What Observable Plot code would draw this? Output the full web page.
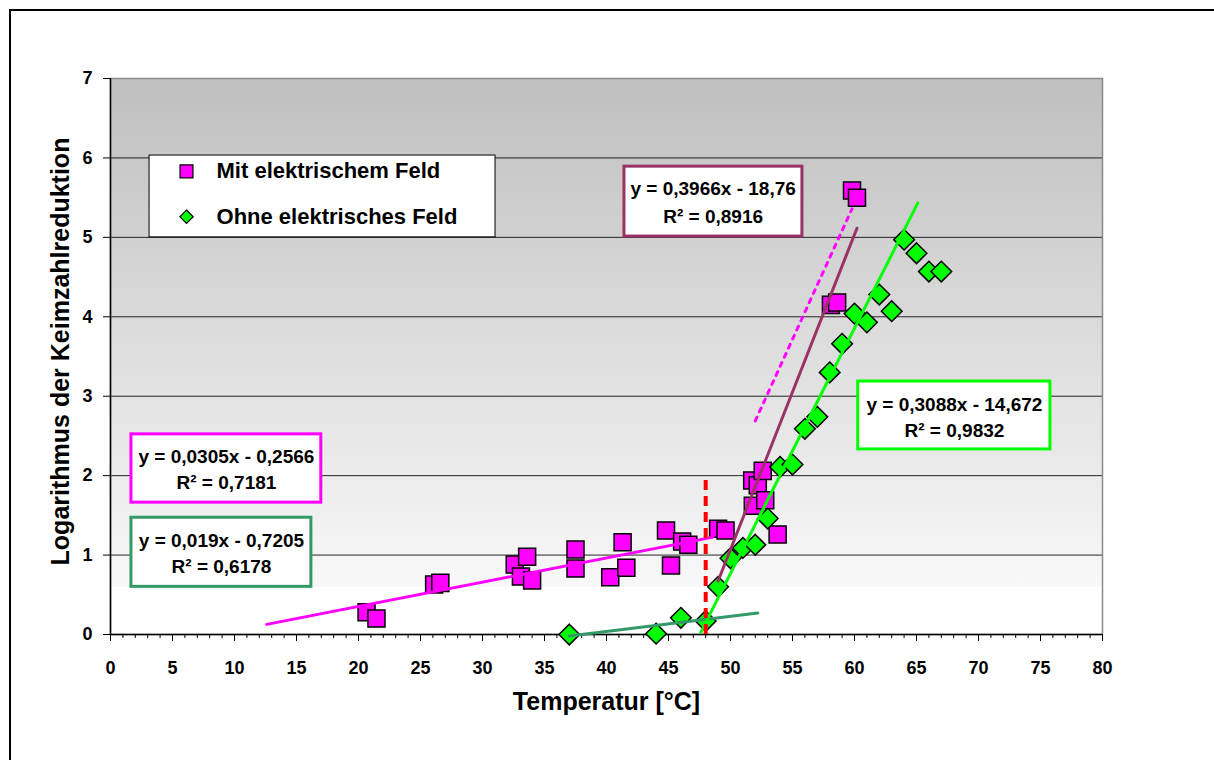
<!DOCTYPE html>
<html><head><meta charset="utf-8">
<script src="https://cdn.jsdelivr.net/npm/d3@7"></script>
<script src="https://cdn.jsdelivr.net/npm/@observablehq/plot@0.6"></script>
<style>
html,body{margin:0;padding:0;background:#fff;overflow:hidden;width:1214px;height:760px;}
#wrap{position:relative;width:1214px;height:760px;overflow:hidden;}
#border{position:absolute;left:9px;top:9px;width:1400px;height:900px;border:2.5px solid #000;box-sizing:border-box;}
#chart{position:absolute;left:0;top:0;}
#chart svg text{font-weight:bold;font-family:"Liberation Sans",Arial,sans-serif;fill:#000;}
</style></head><body>
<div id="wrap"><div id="border"></div><div id="chart"></div></div>
<script>
// ---- data ----
const seriesNames = ["Mit elektrischem Feld", "Ohne elektrisches Feld"];
const mitT   = [20.65, 21.45, 26.1, 26.6, 32.6, 33.1, 33.6, 34.0, 37.5, 37.5, 40.3, 41.3, 41.6, 44.8, 45.2, 46.1, 46.6, 49.0, 49.6, 51.75, 51.8, 52.2, 52.6, 52.8, 53.8, 58.1, 58.6, 59.8, 60.2];
const mitLog = [0.28, 0.20, 0.63, 0.65, 0.88, 0.73, 0.98, 0.68, 1.07, 0.83, 0.72, 1.16, 0.84, 1.31, 0.87, 1.17, 1.13, 1.33, 1.31, 1.94, 1.62, 1.88, 2.06, 1.69, 1.26, 4.15, 4.18, 5.59, 5.50];
const ohneT   = [37, 44, 46, 48, 49, 50, 51, 52, 53, 54, 55, 56, 57, 58, 59, 60, 61, 62, 63, 64, 65, 66, 67];
const ohneLog = [0.00, 0.01, 0.21, 0.17, 0.60, 0.96, 1.09, 1.13, 1.46, 2.11, 2.14, 2.59, 2.74, 3.30, 3.66, 4.04, 3.93, 4.28, 4.07, 4.97, 4.80, 4.57, 4.57];
// trend lines (Excel linear fits), as printed in the chart
const fitSlope     = [0.0305, 0.019, 0.3966, 0.3088];
const fitIntercept = [-0.2566, -0.7205, -18.76, -14.672];
const fitR2        = ["0,7181", "0,6178", "0,8916", "0,9832"];
const fitFrom      = [12.6, 37, 49.0, 47.6];
const fitTo        = [48.6, 52.2, 60.2, 65.1];
// hand-drawn dotted extension
const dottedT   = [52.0, 59.8];
const dottedLog = [2.69, 5.36];
// threshold marker
const thresholdT = 48, thresholdTop = 2;
const xTicks = d3.range(0, 81, 5);
const xMinor = d3.range(0, 81, 1);
const yTicks = [0, 1, 2, 3, 4, 5, 6, 7];
const xTitle = "Temperatur [°C]";
const yTitle = "Logarithmus der Keimzahlreduktion";

// ---- layout / style (not data) ----
const fitColors = ["#ff00ff", "#339966", "#993366", "#00ff00"];
const boxLayout = [
  {x1: 1.69, x2: 17.0, y1: 1.66, y2: 2.52, cx: 9.35, l1: 2.24, l2: 1.914},
  {x1: 1.69, x2: 16.2, y1: 0.60, y2: 1.47, cx: 8.95, l1: 1.183, l2: 0.856},
  {x1: 41.45, x2: 55.8, y1: 5.01, y2: 5.89, cx: 48.6, l1: 5.615, l2: 5.262},
  {x1: 60.3, x2: 75.8, y1: 2.33, y2: 3.185, cx: 68.06, l1: 2.896, l2: 2.568}
];
const legendLayout = {x1: 3.15, x2: 31.05, y1: 5.0, y2: 6.03, mx: 6.13, tx: 8.55, ys: [5.83, 5.26]};

// ---- build tables ----
const mit = mitT.map((t, i) => ({t, v: mitLog[i]}));
const ohne = ohneT.map((t, i) => ({t, v: ohneLog[i]}));
const fmt = v => String(v).replace(".", ",");
const fits = fitSlope.map((a, i) => ({
  i, a, b: fitIntercept[i],
  eq: `y = ${fmt(a)}x - ${fmt(-fitIntercept[i])}`,
  r2: `R² = ${fitR2[i]}`,
  color: fitColors[i],
  pts: [fitFrom[i], fitTo[i]].map(x => ({t: x, v: a * x + fitIntercept[i]})),
  ...boxLayout[i]
}));
const dotted = dottedT.map((t, i) => ({t, v: dottedLog[i]}));

const defs = () => {
  const svgNS = "http://www.w3.org/2000/svg";
  const d = document.createElementNS(svgNS, "defs");
  d.innerHTML = `<linearGradient id="bgGrad" x1="0" y1="0" x2="0" y2="1">
    <stop offset="0" stop-color="#bfbfbf"/>
    <stop offset="0.914" stop-color="#f8f8f8"/>
    <stop offset="0.914" stop-color="#ffffff"/>
    <stop offset="1" stop-color="#ffffff"/></linearGradient>`;
  return d;
};

const fitMarks = fits.map(f =>
  Plot.line(f.pts, {x: "t", y: "v", stroke: f.color, strokeWidth: 3})
);
const boxMarks = fits.flatMap(f => [
  Plot.rect([f], {x1: "x1", x2: "x2", y1: "y1", y2: "y2", fill: "white", stroke: f.color, strokeWidth: 3}),
  Plot.text([f], {x: "cx", y: "l1", text: "eq", fontSize: 19}),
  Plot.text([f], {x: "cx", y: "l2", text: "r2", fontSize: 19})
]);

const L = legendLayout;
const chart = Plot.plot({
  width: 1214, height: 760,
  marginLeft: 110, marginRight: 112, marginTop: 78, marginBottom: 126,
  x: {domain: [0, 80]},
  y: {domain: [0, 7]},
  style: {background: "transparent", overflow: "visible", fontFamily: "'Liberation Sans', Arial, sans-serif"},
  marks: [
    defs,
    Plot.frame({fill: "url(#bgGrad)"}),
    Plot.ruleY(yTicks.filter(v => v > 0 && v < 7), {stroke: "#000", strokeWidth: 1, strokeOpacity: 0.85}),
    Plot.frame({stroke: "#8a8a8a", strokeWidth: 1.5}),
    Plot.axisY({ticks: yTicks, tickSize: 7, tickPadding: 11, fontSize: 18, tickFormat: d => String(d), label: null}),
    Plot.axisX({ticks: xMinor, tickSize: 4, tickFormat: () => "", label: null}),
    Plot.axisX({ticks: xTicks, tickSize: 7, tickPadding: 20, fontSize: 18, tickFormat: d => String(d), label: null}),
    Plot.ruleX([0], {stroke: "#000", strokeWidth: 1.5}),
    Plot.ruleY([0], {stroke: "#000", strokeWidth: 1.5}),
    Plot.dot(mit, {x: "t", y: "v", symbol: "square", r: 9.6, fill: "#ff00ff", stroke: "#000", strokeWidth: 1.5}),
    Plot.dot(ohne, {x: "t", y: "v", symbol: d3.symbolDiamond2, r: 9.3, fill: "#00ff00", stroke: "#000", strokeWidth: 1.5}),
    ...fitMarks,
    Plot.line(dotted, {x: "t", y: "v", stroke: "#ff00ff", strokeWidth: 3, strokeDasharray: "4,6"}),
    Plot.ruleX([thresholdT], {y1: 0, y2: thresholdTop, stroke: "#ff0000", strokeWidth: 4, strokeDasharray: "10,6"}),
    ...boxMarks,
    // legend
    Plot.rect([L], {x1: "x1", x2: "x2", y1: "y1", y2: "y2", fill: "white", stroke: "#000", strokeWidth: 1}),
    Plot.dot([{n: seriesNames[0], y: L.ys[0]}], {x: () => L.mx, y: "y", symbol: "square", r: 7.3, fill: "#ff00ff", stroke: "#000", strokeWidth: 1.2}),
    Plot.dot([{n: seriesNames[1], y: L.ys[1]}], {x: () => L.mx, y: "y", symbol: d3.symbolDiamond2, r: 6, fill: "#00ff00", stroke: "#000", strokeWidth: 1.2}),
    Plot.text(seriesNames.map((n, i) => ({n, y: L.ys[i]})), {x: () => L.tx, y: "y", text: "n", textAnchor: "start", fontSize: 22}),
    // axis titles
    Plot.text([xTitle], {frameAnchor: "bottom", dy: 75, text: d => d, fontSize: 25}),
    Plot.text([yTitle], {frameAnchor: "left", textAnchor: "middle", dx: -50, dy: -5, rotate: -90, text: d => d, fontSize: 25})
  ]
});
document.getElementById("chart").appendChild(chart);
</script>
</body></html>
